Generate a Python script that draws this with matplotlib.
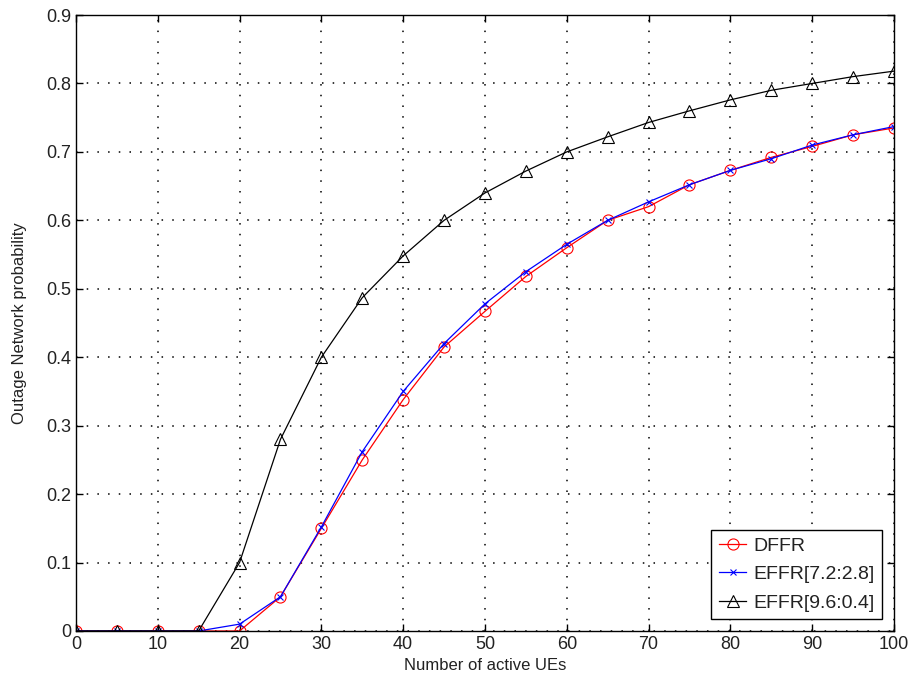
import matplotlib
matplotlib.use('Agg')
import matplotlib.pyplot as plt

plt.rcParams['font.family'] = ['Liberation Sans', 'DejaVu Sans']

# number of active UEs
ues = [0, 5, 10, 15, 20, 25, 30, 35, 40, 45, 50, 55, 60, 65, 70, 75, 80, 85, 90, 95, 100]

dffr = [0, 0, 0, 0, 0, 0.05, 0.15, 0.25, 0.338, 0.415, 0.467, 0.518, 0.56, 0.60,
        0.62, 0.652, 0.673, 0.692, 0.708, 0.725, 0.735]
effr_72 = [0, 0, 0, 0, 0.01, 0.05, 0.152, 0.262, 0.35, 0.42, 0.478, 0.525, 0.565, 0.60,
           0.627, 0.652, 0.673, 0.69, 0.71, 0.725, 0.737]
effr_96 = [0, 0, 0, 0, 0.1, 0.28, 0.40, 0.487, 0.548, 0.60, 0.64, 0.672, 0.70, 0.722,
           0.743, 0.76, 0.776, 0.79, 0.80, 0.81, 0.818]

xticks = list(range(0, 101, 10))
yticks = [0, 0.1, 0.2, 0.3, 0.4, 0.5, 0.6, 0.7, 0.8, 0.9]
ytick_labels = ['0', '0.1', '0.2', '0.3', '0.4', '0.5', '0.6', '0.7', '0.8', '0.9']

fig = plt.figure(figsize=(9.12, 6.86), dpi=100)
ax = fig.add_axes([0.0833, 0.0802, 0.8969, 0.8979])

ax.plot(ues, dffr, '-o', color='red', mfc='none', ms=8, mew=0.8, lw=0.9, label='DFFR')
ax.plot(ues, effr_72, '-x', color='blue', ms=5, mew=0.8, lw=0.9, label='EFFR[7.2:2.8]')
ax.plot(ues, effr_96, '-^', color='black', mfc='none', ms=8, mew=0.8, lw=0.9, label='EFFR[9.6:0.4]')

ax.set_xlim(0, 100)
ax.set_ylim(0, 0.9)
ax.set_xticks(xticks)
ax.set_yticks(yticks)
ax.set_yticklabels(ytick_labels)
ax.grid(True, linestyle=(0, (1, 6)), color='black', linewidth=1.1)
ax.tick_params(direction='in', top=True, right=True, length=5, labelsize=13, width=1,
               labelcolor='#222222')
for s in ax.spines.values():
    s.set_linewidth(1)

ax.set_xlabel('Number of active UEs', fontsize=12, labelpad=4, color='#222222')
ax.set_ylabel('Outage Network probability', fontsize=12, labelpad=14, color='#222222')

leg = ax.legend(loc='lower right', fontsize=14, fancybox=False, edgecolor='black',
                framealpha=1, borderaxespad=0.6, handlelength=1.4, handletextpad=0.35,
                borderpad=0.4, labelspacing=0.55)
leg.get_frame().set_linewidth(1)
for t in leg.get_texts():
    t.set_color('#222222')

fig.savefig('out.png', dpi=100)
